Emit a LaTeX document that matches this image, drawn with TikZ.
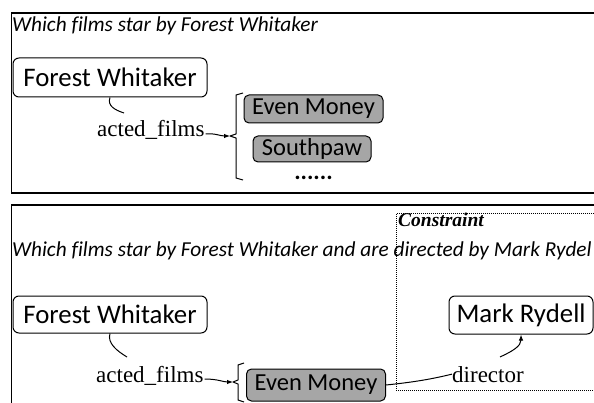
\documentclass[tikz,border=0pt]{standalone}
\usepackage{fontspec}
\setmainfont{Liberation Serif}
\newfontfamily\carl[Ligatures=NoCommon]{Carlito}
\usetikzlibrary{arrows.meta}
\begin{document}
\begin{tikzpicture}[x=1pt,y=-1pt,
  frame/.style={line width=1.5pt},
  entity/.style={draw, rounded corners=6pt, line width=1pt, inner sep=0pt,
    font=\carl\fontsize{26.8}{29}\selectfont},
  film/.style={draw, fill=black!35, rounded corners=5pt, line width=1pt, inner sep=0pt,
    font=\carl\fontsize{24.5}{26}\selectfont},
  question/.style={anchor=base west, inner sep=0pt, font=\carl\itshape\fontsize{21.3}{24}\selectfont},
  rel/.style={anchor=base west, inner sep=0pt, font=\fontsize{23}{26}\selectfont},
  link/.style={line width=1pt},
  arr/.style={line width=1pt, -{Latex[length=6pt,width=4.5pt]}},
  bracket/.style={line width=1pt, line join=round}
]
\clip (0,0) rectangle (594,403);
\fill[white] (0,0) rectangle (594,403);

% ---------- top panel ----------
\draw[frame] (11.5,13) rectangle (620,193);
\node[question] (t1) at (12,32) {Which films star by Forest Whitaker};

\node[entity, minimum width=194pt, minimum height=39pt] (fw1) at (110,77.5) {Forest Whitaker};
\node[rel] (af1) at (97,137) {acted\_films};
\coordinate (c1) at (124,113);
\draw[link] (fw1.south) .. controls (107,106) and (115,110) .. (c1);

\coordinate (b1) at (230,136);
\draw[arr] ([shift={(1pt,3pt)}]af1.base east) .. controls (215,133) and (220,136) .. (b1);
\draw[bracket] (243,93) -- (236,95) -- (236,134) -- (b1) -- (236,138) -- (236,178) -- (243,180);

\node[film, minimum width=139pt, minimum height=28pt] (em1) at (313.5,109) {Even Money};
\node[film, minimum width=118pt, minimum height=26pt] (sp1) at (312,149) {Southpaw};
\node[anchor=base, inner sep=0pt, font=\carl\bfseries\fontsize{24}{26}\selectfont] (dots) at (313.5,180) {......};

% ---------- bottom panel ----------
\draw[frame] (11.5,205) rectangle (620,430);
\draw[line width=1pt, dash pattern=on 1pt off 1pt] (396,214) rectangle (620,390);
\node[anchor=base west, inner sep=0pt, font=\bfseries\itshape\fontsize{19.5}{21}\selectfont] (cons) at (398,227) {Constraint};
\node[question] (t2) at (12,257) {Which films star by Forest Whitaker and are directed by Mark Rydel};

\node[entity, minimum width=194pt, minimum height=37pt] (fw2) at (110,314.5) {Forest Whitaker};
\node[entity, minimum width=144pt, minimum height=38pt] (mr) at (521,315) {Mark Rydell};

\node[rel] (af2) at (96,382) {acted\_films};
\coordinate (c2) at (127,357);
\draw[link] (fw2.south) .. controls (107,343) and (117,351) .. (c2);

\coordinate (b2) at (233,382);
\draw[arr] ([shift={(1pt,3pt)}]af2.base east) .. controls (218,379) and (223,382) .. (b2);
\draw[bracket] (244,363) -- (238,365) -- (238,380) -- (b2) -- (238,384) -- (238,400) -- (244,402);

\node[film, minimum width=139pt, minimum height=32pt] (em2) at (316,385) {Even Money};

\node[rel] (dr) at (452,382) {director};
\draw[link] (em2.east) .. controls (415,382) and (432,379) .. (dr.west);
\coordinate (d0) at (500,357);
\draw[arr] (d0) .. controls (513,351) and (521,346) .. (mr.south);
\end{tikzpicture}
\end{document}
